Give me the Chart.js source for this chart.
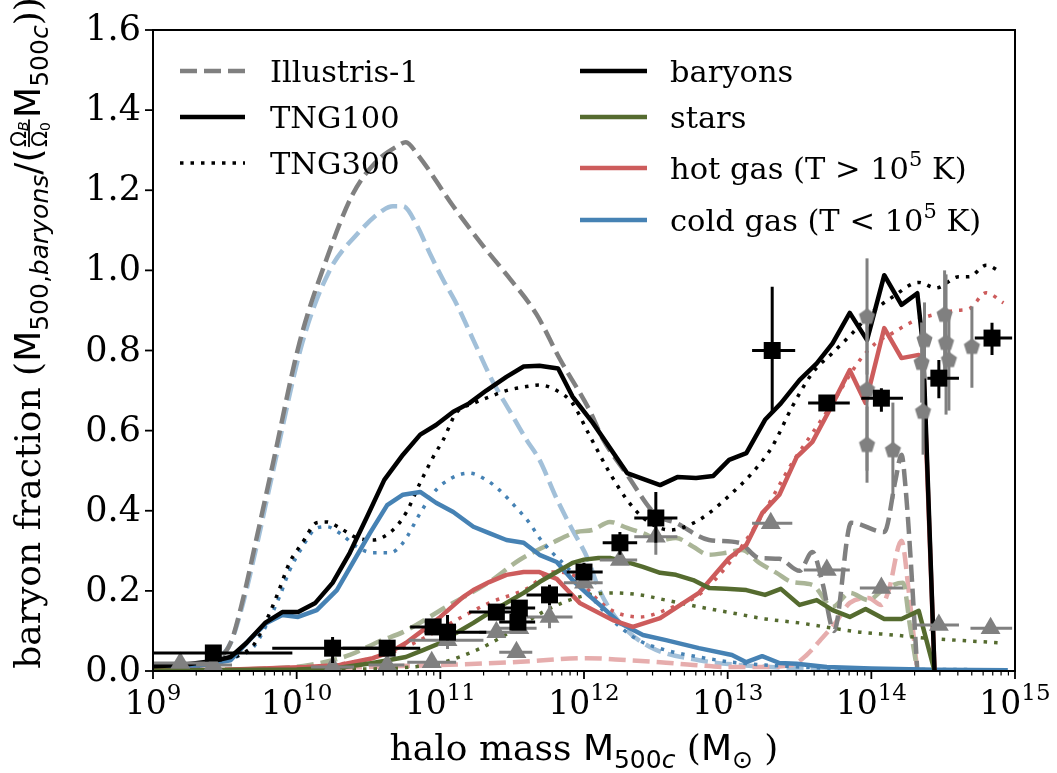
<!DOCTYPE html>
<html>

<head>
    <meta charset="utf-8">
    <title>Baryon fraction vs halo mass</title>
    <script src="https://cdn.jsdelivr.net/npm/chart.js@4"></script>
    <style>
        html, body { margin: 0; padding: 0; background: #ffffff; }
        #wrap { width: 1057px; height: 773px; }
    </style>
</head>

<body>
    <div id="wrap"><canvas id="chart" width="1057" height="773"></canvas></div>
    <script>
        // all masses are log10(M500c / Msun), fractions in units of the cosmic baryon fraction

        // Illustris-1 (dashed)
        var illBarM = [9.0, 9.3, 9.45, 9.54, 9.62, 9.72, 9.83, 10.02, 10.21, 10.39, 10.55, 10.70, 10.76, 10.84, 11.09, 11.30, 11.46, 11.67, 11.83, 12.04, 12.13, 12.30, 12.50, 12.64, 12.87, 13.08, 13.22, 13.36, 13.50, 13.59, 13.66, 13.74, 13.86, 14.09, 14.17, 14.21, 14.24, 14.27, 14.32];
        var illBarF = [0.01, 0.015, 0.03, 0.07, 0.17, 0.33, 0.51, 0.82, 1.03, 1.19, 1.27, 1.31, 1.32, 1.29, 1.16, 1.06, 0.99, 0.89, 0.78, 0.65, 0.58, 0.49, 0.39, 0.37, 0.327, 0.32, 0.282, 0.28, 0.25, 0.297, 0.22, 0.10, 0.37, 0.347, 0.48, 0.54, 0.45, 0.30, 0.0];
        var illColdM = [9.0, 9.3, 9.45, 9.54, 9.62, 9.72, 9.83, 10.04, 10.23, 10.42, 10.60, 10.67, 10.74, 10.84, 10.93, 11.02, 11.11, 11.23, 11.36, 11.48, 11.60, 11.69, 11.81, 11.92, 12.02, 12.11, 12.25, 12.46, 12.80, 13.20, 13.60, 14.32];
        var illColdF = [0.01, 0.015, 0.03, 0.07, 0.16, 0.31, 0.49, 0.82, 1.0, 1.09, 1.15, 1.16, 1.16, 1.11, 1.04, 0.976, 0.918, 0.826, 0.726, 0.651, 0.577, 0.527, 0.43, 0.352, 0.285, 0.2, 0.12, 0.06, 0.027, 0.012, 0.006, 0.003];
        var illHotM = [9.0, 10.0, 10.5, 11.0, 11.5, 12.02, 12.30, 12.53, 12.76, 13.0, 13.22, 13.45, 13.55, 13.64, 13.75, 13.85, 13.98, 14.07, 14.12, 14.21, 14.26, 14.32];
        var illHotF = [0.002, 0.004, 0.01, 0.015, 0.022, 0.032, 0.027, 0.022, 0.015, 0.01, 0.01, 0.015, 0.04, 0.075, 0.12, 0.17, 0.182, 0.165, 0.2, 0.325, 0.2, 0.0];
        var illStarM = [9.0, 9.7, 10.09, 10.37, 10.58, 10.74, 11.04, 11.34, 11.55, 11.78, 11.95, 12.06, 12.18, 12.30, 12.41, 12.53, 12.64, 12.76, 12.87, 12.99, 13.10, 13.22, 13.34, 13.45, 13.59, 13.73, 13.85, 13.98, 14.08, 14.22, 14.27, 14.32];
        var illStarF = [0.002, 0.005, 0.015, 0.04, 0.075, 0.097, 0.16, 0.222, 0.277, 0.32, 0.347, 0.352, 0.372, 0.357, 0.344, 0.327, 0.332, 0.31, 0.29, 0.295, 0.302, 0.27, 0.245, 0.222, 0.215, 0.16, 0.195, 0.177, 0.202, 0.22, 0.11, 0.0];

        // TNG100 (solid)
        var t1BarM = [9.0, 9.2, 9.42, 9.54, 9.65, 9.78, 9.90, 10.01, 10.13, 10.25, 10.37, 10.49, 10.61, 10.74, 10.86, 10.97, 11.09, 11.20, 11.32, 11.46, 11.58, 11.69, 11.82, 11.92, 12.06, 12.30, 12.53, 12.65, 12.78, 12.90, 13.01, 13.13, 13.26, 13.37, 13.50, 13.62, 13.73, 13.85, 13.97, 14.09, 14.21, 14.32, 14.36, 14.44];
        var t1BarF = [0.012, 0.015, 0.025, 0.035, 0.07, 0.12, 0.147, 0.147, 0.17, 0.22, 0.295, 0.385, 0.477, 0.54, 0.59, 0.614, 0.647, 0.668, 0.70, 0.734, 0.76, 0.762, 0.755, 0.685, 0.62, 0.494, 0.464, 0.484, 0.482, 0.487, 0.527, 0.544, 0.627, 0.668, 0.726, 0.768, 0.818, 0.894, 0.826, 0.988, 0.914, 0.943, 0.81, 0.0];
        var t1ColdM = [9.0, 9.3, 9.54, 9.67, 9.79, 9.90, 10.01, 10.14, 10.28, 10.39, 10.51, 10.63, 10.74, 10.86, 10.97, 11.09, 11.23, 11.34, 11.46, 11.58, 11.69, 11.81, 11.92, 12.03, 12.11, 12.25, 12.41, 12.57, 12.80, 13.03, 13.13, 13.24, 13.36, 13.48, 13.69, 14.0, 14.44, 14.95];
        var t1ColdF = [0.008, 0.012, 0.027, 0.077, 0.12, 0.14, 0.135, 0.152, 0.202, 0.27, 0.344, 0.414, 0.44, 0.447, 0.42, 0.397, 0.36, 0.344, 0.327, 0.32, 0.29, 0.272, 0.227, 0.19, 0.165, 0.12, 0.09, 0.077, 0.057, 0.04, 0.022, 0.037, 0.02, 0.018, 0.01, 0.006, 0.003, 0.002];
        var t1HotM = [9.0, 9.5, 10.07, 10.30, 10.53, 10.65, 10.76, 10.88, 11.0, 11.07, 11.16, 11.23, 11.34, 11.46, 11.58, 11.69, 11.81, 11.97, 12.20, 12.34, 12.53, 12.80, 13.01, 13.13, 13.24, 13.36, 13.48, 13.59, 13.71, 13.85, 13.96, 14.09, 14.21, 14.33, 14.36, 14.44];
        var t1HotF = [0.002, 0.003, 0.01, 0.015, 0.032, 0.047, 0.07, 0.102, 0.135, 0.157, 0.185, 0.202, 0.222, 0.24, 0.247, 0.247, 0.23, 0.17, 0.127, 0.11, 0.132, 0.195, 0.282, 0.315, 0.394, 0.44, 0.534, 0.572, 0.652, 0.751, 0.669, 0.856, 0.781, 0.789, 0.78, 0.0];
        var t1StarM = [9.0, 10.0, 10.3, 10.53, 10.76, 10.88, 11.0, 11.11, 11.23, 11.34, 11.46, 11.58, 11.69, 11.81, 11.92, 12.0, 12.10, 12.18, 12.30, 12.41, 12.53, 12.64, 12.76, 12.87, 12.99, 13.13, 13.26, 13.37, 13.50, 13.62, 13.73, 13.85, 13.96, 14.09, 14.21, 14.33, 14.44];
        var t1StarF = [0.001, 0.004, 0.008, 0.02, 0.035, 0.052, 0.07, 0.095, 0.12, 0.145, 0.17, 0.195, 0.222, 0.247, 0.27, 0.278, 0.282, 0.282, 0.272, 0.26, 0.245, 0.24, 0.227, 0.207, 0.205, 0.202, 0.19, 0.205, 0.165, 0.177, 0.152, 0.135, 0.155, 0.13, 0.13, 0.15, 0.0];

        // TNG300 (dotted)
        var t3BarM = [9.0, 9.3, 9.5, 9.6, 9.7, 9.79, 9.87, 9.95, 10.04, 10.14, 10.21, 10.30, 10.42, 10.53, 10.67, 10.76, 10.86, 10.95, 11.02, 11.11, 11.23, 11.34, 11.46, 11.60, 11.69, 11.81, 11.92, 12.03, 12.18, 12.30, 12.43, 12.60, 12.76, 12.87, 13.03, 13.17, 13.31, 13.45, 13.59, 13.73, 13.87, 14.00, 14.15, 14.33, 14.45, 14.61, 14.68, 14.80, 14.90];
        var t3BarF = [0.012, 0.015, 0.025, 0.04, 0.065, 0.127, 0.195, 0.27, 0.32, 0.37, 0.372, 0.357, 0.332, 0.327, 0.352, 0.394, 0.47, 0.534, 0.577, 0.644, 0.668, 0.684, 0.70, 0.71, 0.714, 0.70, 0.668, 0.594, 0.494, 0.427, 0.377, 0.352, 0.369, 0.394, 0.444, 0.494, 0.56, 0.66, 0.744, 0.794, 0.844, 0.894, 0.934, 0.97, 0.956, 0.984, 0.984, 1.013, 0.996];
        var t3ColdM = [9.0, 9.3, 9.45, 9.58, 9.70, 9.79, 9.88, 9.95, 10.04, 10.14, 10.21, 10.30, 10.42, 10.53, 10.65, 10.74, 10.86, 10.95, 11.07, 11.20, 11.32, 11.41, 11.53, 11.62, 11.69, 11.78, 11.88, 12.0, 12.11, 12.25, 12.39, 12.57, 12.80, 13.03, 13.26, 13.70, 14.90];
        var t3ColdF = [0.008, 0.012, 0.02, 0.035, 0.06, 0.115, 0.185, 0.25, 0.31, 0.357, 0.36, 0.344, 0.31, 0.295, 0.295, 0.32, 0.394, 0.444, 0.48, 0.494, 0.477, 0.452, 0.407, 0.37, 0.332, 0.295, 0.26, 0.21, 0.16, 0.11, 0.075, 0.052, 0.035, 0.022, 0.015, 0.007, 0.003];
        var t3HotM = [9.0, 10.0, 10.5, 10.76, 10.95, 11.11, 11.34, 11.60, 11.78, 11.95, 12.06, 12.20, 12.39, 12.62, 12.80, 12.99, 13.22, 13.45, 13.59, 13.73, 13.92, 14.03, 14.15, 14.27, 14.38, 14.59, 14.68, 14.80, 14.92];
        var t3HotF = [0.002, 0.008, 0.03, 0.06, 0.095, 0.127, 0.17, 0.205, 0.247, 0.235, 0.19, 0.15, 0.135, 0.16, 0.19, 0.26, 0.377, 0.52, 0.594, 0.669, 0.776, 0.818, 0.844, 0.869, 0.884, 0.9, 0.904, 0.944, 0.919];
        var t3StarM = [9.0, 10.5, 10.8, 11.0, 11.27, 11.50, 11.74, 11.97, 12.20, 12.39, 12.57, 12.80, 13.03, 13.26, 13.50, 13.73, 13.92, 14.15, 14.38, 14.59, 14.91];
        var t3StarF = [0.001, 0.005, 0.01, 0.02, 0.055, 0.10, 0.152, 0.185, 0.195, 0.19, 0.177, 0.16, 0.145, 0.13, 0.12, 0.107, 0.097, 0.09, 0.082, 0.077, 0.07];

        // observations: black squares
        var sqM = [9.42, 10.25, 10.63, 10.95, 11.05, 11.39, 11.55, 11.54, 11.76, 12.00, 12.25, 12.50, 13.31, 13.69, 14.07, 14.47, 14.84];
        var sqF = [0.045, 0.057, 0.057, 0.11, 0.097, 0.147, 0.157, 0.122, 0.19, 0.247, 0.32, 0.382, 0.80, 0.669, 0.681, 0.731, 0.831];
        var sqMlo = [9.0, 9.83, 10.32, 10.79, 10.89, 11.20, 11.43, 11.41, 11.60, 11.88, 12.13, 12.35, 13.17, 13.56, 13.93, 14.39, 14.72];
        var sqMhi = [9.97, 10.67, 10.86, 11.11, 11.32, 11.55, 11.66, 11.66, 11.92, 12.13, 12.37, 12.65, 13.47, 13.85, 14.22, 14.61, 14.98];
        var sqFlo = [0.04, 0.02, 0.05, 0.10, 0.077, 0.14, 0.145, 0.115, 0.165, 0.227, 0.29, 0.32, 0.644, 0.652, 0.647, 0.681, 0.789];
        var sqFhi = [0.05, 0.085, 0.065, 0.12, 0.14, 0.155, 0.17, 0.13, 0.215, 0.27, 0.347, 0.447, 0.959, 0.689, 0.706, 0.776, 0.869];

        // observations: grey triangles
        var triM = [9.19, 9.42, 10.25, 10.63, 10.94, 11.05, 11.39, 11.55, 11.53, 11.76, 12.00, 12.25, 12.50, 13.30, 13.69, 14.07, 14.47, 14.83];
        var triF = [0.02, 0.015, 0.01, 0.015, 0.022, 0.077, 0.097, 0.107, 0.047, 0.135, 0.22, 0.277, 0.335, 0.369, 0.252, 0.207, 0.115, 0.107];
        var triMlo = [9.0, 9.3, 10.1, 10.5, 10.77, 10.78, 11.27, 11.41, 11.41, 11.60, 11.86, 12.11, 12.35, 13.17, 13.53, 13.92, 14.31, 14.69];
        var triMhi = [9.4, 9.55, 10.4, 10.75, 11.11, 11.30, 11.50, 11.67, 11.64, 11.92, 12.13, 12.37, 12.65, 13.45, 13.85, 14.22, 14.61, 14.98];
        var triFlo = [0.01, 0.005, 0.0, 0.005, 0.012, 0.055, 0.087, 0.097, 0.037, 0.107, 0.21, 0.267, 0.29, 0.359, 0.242, 0.197, 0.105, 0.097];
        var triFhi = [0.03, 0.025, 0.02, 0.025, 0.032, 0.097, 0.107, 0.117, 0.057, 0.165, 0.23, 0.287, 0.37, 0.379, 0.262, 0.217, 0.125, 0.117];

        // observations: grey pentagons (clusters)
        var penM = [13.97, 13.97, 13.97, 14.15, 14.37, 14.35, 14.36, 14.51, 14.52, 14.54, 14.70];
        var penF = [0.884, 0.702, 0.564, 0.551, 0.826, 0.769, 0.647, 0.889, 0.819, 0.776, 0.809];
        var penFlo = [0.74, 0.50, 0.47, 0.43, 0.73, 0.67, 0.54, 0.75, 0.64, 0.65, 0.707];
        var penFhi = [1.03, 0.88, 0.66, 0.67, 0.92, 0.87, 0.75, 1.0, 0.99, 0.90, 0.91];

        var yTicks = [0.0, 0.2, 0.4, 0.6, 0.8, 1.0, 1.2, 1.4, 1.6];
        var xDecades = [9, 10, 11, 12, 13, 14, 15];

        var BLACK = '#000000', GREY = '#808080';
        var BLUE = '#4682b4', BLUE_L = '#a2c0d9';
        var RED = '#cd5c5c', RED_L = '#e6adad';
        var GREEN = '#556b2f', GREEN_L = '#aab597';

        var SERIF = '"DejaVu Serif", serif';
        var SANS = '"DejaVu Sans", sans-serif';

        function toPts(m, f) {
            return m.map(function (v, i) { return { x: Math.pow(10, v), y: f[i] }; });
        }

        function curve(m, f, color, style, order) {
            return {
                data: toPts(m, f),
                showLine: true,
                borderColor: color,
                backgroundColor: color,
                borderWidth: style === 'dot' ? 3.5 : 4.5,
                borderDash: style === 'dash' ? [17, 7] : (style === 'dot' ? [3.5, 7] : []),
                borderCapStyle: 'butt',
                borderJoinStyle: 'round',
                pointRadius: 0,
                tension: 0,
                cubicInterpolationMode: style === 'solid' ? 'default' : 'monotone',
                fill: false,
                order: order
            };
        }

        function pentagon(r, color) {
            var c = document.createElement('canvas');
            var s = Math.ceil(2 * r + 2);
            c.width = s; c.height = s;
            var g = c.getContext('2d');
            g.fillStyle = color;
            g.beginPath();
            for (var k = 0; k < 5; k++) {
                var a = -Math.PI / 2 + k * 2 * Math.PI / 5;
                g.lineTo(s / 2 + r * Math.cos(a), s / 2 + r * Math.sin(a));
            }
            g.closePath();
            g.fill();
            return c;
        }

        var datasets = [
            {
                data: toPts(sqM, sqF), pointStyle: 'rect', pointRadius: 12, backgroundColor: BLACK,
                borderWidth: 0, order: 0,
                err: { color: BLACK, xlo: sqMlo, xhi: sqMhi, ylo: sqFlo, yhi: sqFhi }
            },
            {
                data: toPts(triM, triF), pointStyle: 'triangle', pointRadius: 11.5, backgroundColor: GREY,
                borderWidth: 0, order: 1,
                err: { color: GREY, xlo: triMlo, xhi: triMhi, ylo: triFlo, yhi: triFhi }
            },
            {
                data: toPts(penM, penF), pointStyle: pentagon(8.5, GREY), pointRadius: 9, backgroundColor: GREY,
                borderWidth: 0, order: 1,
                err: { color: GREY, xlo: null, xhi: null, ylo: penFlo, yhi: penFhi }
            },
            curve(t1BarM, t1BarF, BLACK, 'solid', 2),
            curve(t1StarM, t1StarF, GREEN, 'solid', 2),
            curve(t1HotM, t1HotF, RED, 'solid', 2),
            curve(t1ColdM, t1ColdF, BLUE, 'solid', 2),
            curve(t3BarM, t3BarF, BLACK, 'dot', 3),
            curve(t3StarM, t3StarF, GREEN, 'dot', 3),
            curve(t3HotM, t3HotF, RED, 'dot', 3),
            curve(t3ColdM, t3ColdF, BLUE, 'dot', 3),
            curve(illBarM, illBarF, GREY, 'dash', 4),
            curve(illStarM, illStarF, GREEN_L, 'dash', 4),
            curve(illHotM, illHotF, RED_L, 'dash', 4),
            curve(illColdM, illColdF, BLUE_L, 'dash', 4)
        ];

        // error bars drawn just under their markers
        var errorBars = {
            id: 'errorBars',
            beforeDatasetDraw: function (chart, args) {
                var ds = chart.data.datasets[args.index];
                if (!ds.err) return;
                var xs = chart.scales.x, ys = chart.scales.y, ctx = chart.ctx, e = ds.err;
                ctx.save();
                ctx.strokeStyle = e.color;
                ctx.lineWidth = 3;
                ds.data.forEach(function (p, i) {
                    var px = xs.getPixelForValue(p.x), py = ys.getPixelForValue(p.y);
                    ctx.beginPath();
                    if (e.xlo) {
                        ctx.moveTo(xs.getPixelForValue(Math.pow(10, e.xlo[i])), py);
                        ctx.lineTo(xs.getPixelForValue(Math.pow(10, e.xhi[i])), py);
                    }
                    ctx.moveTo(px, ys.getPixelForValue(e.ylo[i]));
                    ctx.lineTo(px, ys.getPixelForValue(e.yhi[i]));
                    ctx.stroke();
                });
                ctx.restore();
            }
        };

        // rich text: runs of text with own font and vertical shift, plus a small fraction
        var FR_BIG = '21px ' + SANS, FR_SUBI = 'italic 14px ' + SANS, FR_SUB = '14px ' + SANS;
        function fracWidth(ctx) {
            ctx.font = FR_BIG;
            var w = ctx.measureText('\u03A9').width;
            ctx.font = FR_SUBI;
            return w + ctx.measureText('B').width + 2;
        }
        function richWidth(ctx, parts) {
            var w = 0;
            parts.forEach(function (p) {
                if (p.frac) { w += fracWidth(ctx) + 3; return; }
                ctx.font = p.f;
                w += ctx.measureText(p.t).width;
            });
            return w;
        }
        function drawRich(ctx, x, y, parts) {
            parts.forEach(function (p) {
                if (p.frac) {
                    var fw = fracWidth(ctx);
                    var bar = y - 11;
                    ctx.fillRect(x + 1.5, bar - 0.9, fw, 1.8);
                    ctx.font = FR_BIG;
                    var ow = ctx.measureText('\u03A9').width;
                    ctx.fillText('\u03A9', x + 1.5, bar - 3);
                    ctx.fillText('\u03A9', x + 1.5, bar + 18);
                    ctx.font = FR_SUBI;
                    ctx.fillText('B', x + 1.5 + ow, bar - 1);
                    ctx.font = FR_SUB;
                    ctx.fillText('0', x + 1.5 + ow, bar + 21);
                    x += fw + 3;
                    return;
                }
                ctx.font = p.f;
                ctx.fillText(p.t, x, y + (p.dy || 0));
                x += ctx.measureText(p.t).width;
            });
        }

        var F_MAIN = '36px ' + SERIF, F_MATH = '36px ' + SANS;
        var F_SUB = '25px ' + SANS, F_SUBI = 'italic 25px ' + SANS;
        var xTitle = [
            { t: 'halo mass ', f: F_MAIN }, { t: 'M', f: F_MATH }, { t: '500', f: F_SUB, dy: 8 },
            { t: 'c', f: F_SUBI, dy: 8 }, { t: ' (', f: F_MAIN }, { t: 'M', f: F_MATH },
            { t: '\u2299', f: F_SUB, dy: 8 }, { t: ' )', f: F_MAIN }
        ];
        var yTitle = [
            { t: 'baryon fraction (', f: F_MAIN }, { t: 'M', f: F_MATH }, { t: '500,', f: F_SUB, dy: 8 },
            { t: 'baryons', f: F_SUBI, dy: 8 }, { t: '/(', f: F_MATH }, { frac: true },
            { t: 'M', f: F_MATH }, { t: '500', f: F_SUB, dy: 8 }, { t: 'c', f: F_SUBI, dy: 8 },
            { t: '))', f: F_MAIN }
        ];

        var F_LEG = '30.5px ' + SERIF, F_LEGSUP = '21px ' + SERIF;
        var legendLeft = [
            { label: [{ t: 'Illustris-1', f: F_LEG }], color: GREY, dash: [17, 7], w: 4.5 },
            { label: [{ t: 'TNG100', f: F_LEG }], color: BLACK, dash: [], w: 4.5 },
            { label: [{ t: 'TNG300', f: F_LEG }], color: BLACK, dash: [3.5, 7], w: 3.5 }
        ];
        var legendRight = [
            { label: [{ t: 'baryons', f: F_LEG }], color: BLACK },
            { label: [{ t: 'stars', f: F_LEG }], color: GREEN },
            { label: [{ t: 'hot gas (T > 10', f: F_LEG }, { t: '5', f: F_LEGSUP, dy: -13 }, { t: ' K)', f: F_LEG }], color: RED },
            { label: [{ t: 'cold gas (T < 10', f: F_LEG }, { t: '5', f: F_LEGSUP, dy: -13 }, { t: ' K)', f: F_LEG }], color: BLUE }
        ];

        var axesDecor = {
            id: 'axesDecor',
            afterDraw: function (chart) {
                var ctx = chart.ctx, a = chart.chartArea;
                var xs = chart.scales.x, ys = chart.scales.y;
                ctx.save();
                ctx.fillStyle = '#000';
                ctx.strokeStyle = '#000';

                // frame
                ctx.lineWidth = 2;
                ctx.strokeRect(a.left, a.top, a.right - a.left, a.bottom - a.top);

                // y ticks
                ctx.lineWidth = 1.8;
                ctx.font = '35px ' + SERIF;
                ctx.textAlign = 'right';
                ctx.textBaseline = 'middle';
                yTicks.forEach(function (v) {
                    var py = ys.getPixelForValue(v);
                    ctx.beginPath();
                    ctx.moveTo(a.left - 8, py); ctx.lineTo(a.left, py);
                    ctx.stroke();
                    ctx.fillText(v.toFixed(1), a.left - 12, py + 1);
                });

                // x ticks, major and minor
                ctx.textAlign = 'left';
                ctx.textBaseline = 'alphabetic';
                xDecades.forEach(function (d) {
                    var px = xs.getPixelForValue(Math.pow(10, d));
                    ctx.lineWidth = 1.8;
                    ctx.beginPath();
                    ctx.moveTo(px, a.bottom); ctx.lineTo(px, a.bottom + 8);
                    ctx.stroke();
                    if (d < 15) {
                        ctx.lineWidth = 1.2;
                        for (var k = 2; k <= 9; k++) {
                            var mx = xs.getPixelForValue(k * Math.pow(10, d));
                            ctx.beginPath();
                            ctx.moveTo(mx, a.bottom); ctx.lineTo(mx, a.bottom + 4.5);
                            ctx.stroke();
                        }
                    }
                    var parts = [{ t: '10', f: '33px ' + SERIF }, { t: String(d), f: '23px ' + SERIF, dy: -14 }];
                    var w = richWidth(ctx, parts);
                    drawRich(ctx, px - w / 2, 714, parts);
                });

                // axis titles
                var wx = richWidth(ctx, xTitle);
                drawRich(ctx, (a.left + a.right) / 2 - wx / 2, 760, xTitle);

                ctx.save();
                ctx.translate(40, 333);
                ctx.rotate(-Math.PI / 2);
                var wy = richWidth(ctx, yTitle);
                drawRich(ctx, -wy / 2, 0, yTitle);
                ctx.restore();

                // legend
                var rowsL = [71, 117, 163];
                legendLeft.forEach(function (it, i) {
                    ctx.strokeStyle = it.color;
                    ctx.lineWidth = it.w;
                    ctx.setLineDash(it.dash);
                    ctx.beginPath();
                    ctx.moveTo(180, rowsL[i]); ctx.lineTo(245, rowsL[i]);
                    ctx.stroke();
                    ctx.setLineDash([]);
                    drawRich(ctx, 270, rowsL[i] + 11, it.label);
                });
                var rowsR = [71, 117, 168, 220];
                legendRight.forEach(function (it, i) {
                    ctx.strokeStyle = it.color;
                    ctx.lineWidth = 4.5;
                    ctx.beginPath();
                    ctx.moveTo(580, rowsR[i]); ctx.lineTo(647, rowsR[i]);
                    ctx.stroke();
                    drawRich(ctx, 670, rowsR[i] + 11, it.label);
                });
                ctx.restore();
            }
        };

        new Chart(document.getElementById('chart').getContext('2d'), {
            type: 'scatter',
            data: { datasets: datasets },
            options: {
                responsive: false,
                animation: false,
                events: [],
                layout: { padding: { left: 153, right: 42, top: 30, bottom: 102 } },
                scales: {
                    x: { type: 'logarithmic', min: 1e9, max: 1e15, display: false },
                    y: { type: 'linear', min: 0, max: 1.6, display: false }
                },
                plugins: {
                    legend: { display: false },
                    tooltip: { enabled: false }
                }
            },
            plugins: [errorBars, axesDecor]
        });
    </script>
</body>

</html>
